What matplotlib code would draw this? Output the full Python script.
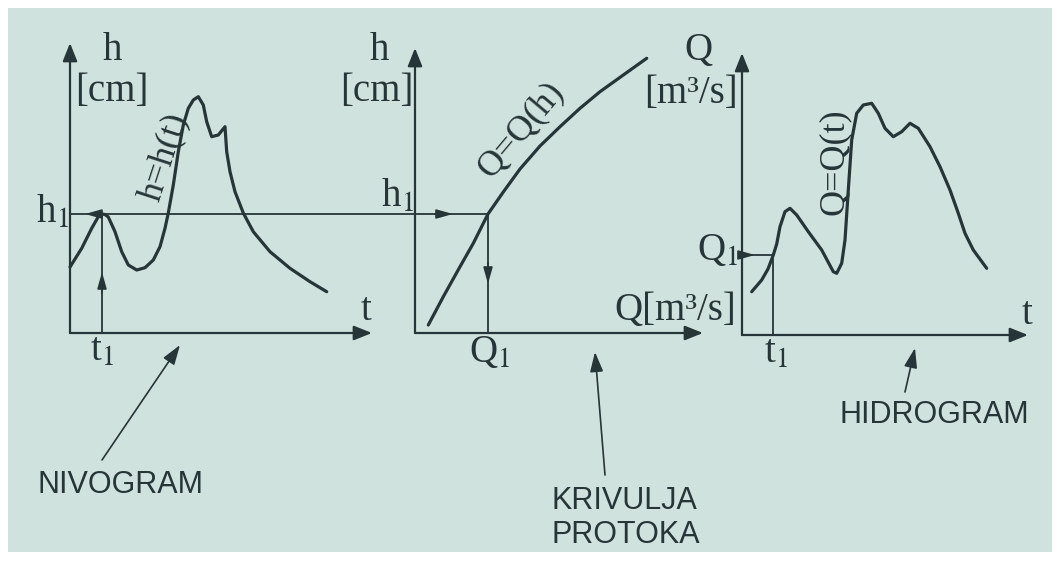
# nivogram -> rating curve -> hydrogram sketch
import matplotlib.pyplot as plt
from matplotlib.patches import Rectangle, ConnectionPatch

plt.rcParams['mathtext.fontset'] = 'stix'

W, H = 1059, 562
ink = '#263538'
bg = '#d0e2dd'
serif = 'Liberation Serif'
sans = 'Liberation Sans'

# nivogram h = h(t)
niv_t = [0, 1.17, 2.17, 2.83, 3.2, 3.5, 3.83, 4.5, 5.17, 5.83, 6.67, 7.5, 8.33, 9.0,
         9.5, 9.83, 10.33, 10.83, 11.33, 11.83, 12.33, 12.83, 13.33, 13.67, 14.17,
         14.83, 15.5, 15.67, 16.0, 16.5, 17.33, 18.33, 20.0, 22.0, 24.0, 25.67]
niv_h = [6.6, 8.47, 10.47, 11.63, 11.9, 11.85, 11.6, 10.13, 8.13, 6.8, 6.3, 6.53, 7.3,
         8.63, 10.47, 12.0, 14.8, 18.13, 20.8, 22.47, 23.3, 23.63, 22.8, 21.13, 19.63,
         19.8, 20.63, 18.13, 16.13, 14.13, 12.0, 10.13, 8.13, 6.47, 5.13, 4.13]
t1 = 3.2
h1 = 11.9

# rating curve Q = Q(h)
kp_Q = [1.33, 2.83, 4.5, 5.83, 7.3, 8.83, 10.5, 12.5, 14.5, 16.5, 18.5, 20.83, 23.17]
kp_h = [0.8, 3.63, 6.63, 8.97, 11.9, 14.1, 16.4, 18.7, 20.63, 22.47, 24.13, 25.8, 27.47]
Q1_kp = 7.3

# hydrogram Q = Q(t)
hid_t = [0.97, 1.97, 2.6, 3.13, 3.47, 3.8, 4.3, 4.8, 5.47, 6.63, 7.97, 9.13, 9.47,
         9.97, 10.3, 10.63, 10.97, 11.47, 12.13, 12.97, 13.63, 14.3, 15.13, 15.97,
         16.8, 17.63, 18.8, 19.8, 20.8, 21.63, 22.3, 23.13, 24.47]
hid_Q = [4.33, 5.5, 6.6, 8.0, 9.1, 10.83, 12.33, 12.67, 12.0, 10.33, 8.5, 6.33, 6.17,
         7.17, 9.5, 14.5, 19.5, 22.17, 23.0, 23.17, 22.17, 20.67, 19.83, 20.33,
         21.17, 20.67, 18.83, 16.83, 14.5, 12.17, 10.17, 8.5, 6.67]
t1_hid = 3.13
Q1_hid = 8.0

fig = plt.figure(figsize=(W / 100, H / 100), dpi=100)
fig.patch.set_facecolor('white')
fig.add_artist(Rectangle((8 / W, 10 / H), 1044 / W, 544 / H, transform=fig.transFigure,
                         facecolor=bg, edgecolor='none', zorder=-10))


def panel(x0, y0, xmax, ymax):
    # one unit = 10 px, origin at pixel (x0, y0) from top-left
    ax = fig.add_axes([x0 / W, (H - y0) / H, xmax * 10 / W, ymax * 10 / H])
    ax.set_xlim(0, xmax)
    ax.set_ylim(0, ymax)
    ax.axis('off')
    head = dict(arrowstyle='-|>,head_length=0.55,head_width=0.22', mutation_scale=20,
                lw=1.6, color=ink, shrinkA=0, shrinkB=0)
    ax.annotate('', xy=(xmax, 0), xytext=(0, 0), arrowprops=head, annotation_clip=False)
    ax.annotate('', xy=(0, ymax), xytext=(0, 0), arrowprops=head, annotation_clip=False)
    return ax


def small_arrow(ax, tip, tail):
    ax.annotate('', xy=tip, xytext=tail, annotation_clip=False,
                arrowprops=dict(arrowstyle='-|>,head_length=0.5,head_width=0.14',
                                mutation_scale=20, lw=1.2, color=ink,
                                shrinkA=0, shrinkB=0))


def label(ax, x, y, s, size=28, ha='center', **kw):
    ax.text(x, y, s, fontsize=size, family=serif, color=ink, ha=ha,
            va='center', clip_on=False, **kw)


ax1 = panel(70, 333, 30.2, 29)
ax2 = panel(415, 333, 28.8, 28.5)
ax3 = panel(742, 335, 28.6, 28.2)

curve = dict(color=ink, lw=2.3, solid_capstyle='round', solid_joinstyle='round',
             clip_on=False)

# panel 1 - nivogram
ax1.plot(niv_t, niv_h, **curve)
ax1.plot([t1, t1], [0, h1], color=ink, lw=1.3)
small_arrow(ax1, (t1, 6.1), (t1, 4.0))
small_arrow(ax1, (1.5, h1), (3.0, h1))
label(ax1, 4.2, 28.3, 'h')
label(ax1, 4.2, 24.2, '[cm]')
label(ax1, -0.15, 12.0, r'h$_{\mathrm{1}}$', ha='right')
label(ax1, t1, -1.8, r't$_{\mathrm{1}}$')
label(ax1, 29.6, 2.2, 't')
label(ax1, 9.4, 17.6, 'h=h(t)', size=26, rotation=72)

# h1 carried over to the rating curve
fig.add_artist(ConnectionPatch(xyA=(0, h1), xyB=(Q1_kp, h1), coordsA=ax1.transData,
                               coordsB=ax2.transData, color=ink, lw=1.3))

# panel 2 - rating curve
ax2.plot(kp_Q, kp_h, **curve)
ax2.plot([Q1_kp, Q1_kp], [0, h1], color=ink, lw=1.3)
small_arrow(ax2, (3.8, h1), (2.0, h1))
small_arrow(ax2, (Q1_kp, 4.9), (Q1_kp, 7.0))
label(ax2, -3.6, 28.3, 'h')
label(ax2, -3.8, 24.2, '[cm]')
label(ax2, -0.15, 13.6, r'h$_{\mathrm{1}}$', ha='right')
label(ax2, Q1_kp + 0.2, -2.0, r'Q$_{\mathrm{1}}$')
label(ax2, 26.0, 2.2, 'Q[m³/s]')
label(ax2, 28.3, 28.3, 'Q')
label(ax2, 27.6, 23.9, '[m³/s]')
label(ax2, 10.6, 20.3, 'Q=Q(h)', size=26, rotation=50)

# panel 3 - hydrogram
ax3.plot(hid_t, hid_Q, **curve)
ax3.plot([0, t1_hid], [Q1_hid, Q1_hid], color=ink, lw=1.3)
ax3.plot([t1_hid, t1_hid], [0, Q1_hid], color=ink, lw=1.3)
small_arrow(ax3, (1.3, Q1_hid), (0.1, Q1_hid))
label(ax3, -0.4, 8.4, r'Q$_{\mathrm{1}}$', ha='right')
label(ax3, t1_hid + 0.3, -1.8, r't$_{\mathrm{1}}$')
label(ax3, 28.5, 2.0, 't')
label(ax3, 9.2, 17.3, 'Q=Q(t)', size=26, rotation=90)

# captions with pointers
pointer = dict(arrowstyle='-|>,head_length=0.6,head_width=0.2', mutation_scale=20,
               lw=1.2, color=ink, shrinkA=0, shrinkB=0)
ax1.annotate('', xy=(11.0, -1.2), xytext=(3.2, -12.7), arrowprops=pointer,
             annotation_clip=False)
ax1.text(5.0, -15.2, 'NIVOGRAM', fontsize=22, family=sans, color=ink,
         ha='center', va='center', clip_on=False)
ax2.annotate('', xy=(18.0, -1.9), xytext=(19.0, -14.2), arrowprops=pointer,
             annotation_clip=False)
ax2.text(13.7, -18.5, 'KRIVULJA\nPROTOKA', fontsize=22, family=sans, color=ink,
         ha='left', va='center', linespacing=1.15, clip_on=False)
ax3.annotate('', xy=(17.3, -1.3), xytext=(16.3, -5.7), arrowprops=pointer,
             annotation_clip=False)
ax3.text(19.2, -8.0, 'HIDROGRAM', fontsize=22, family=sans, color=ink,
         ha='center', va='center', clip_on=False)

fig.savefig('out.png', dpi=100)
